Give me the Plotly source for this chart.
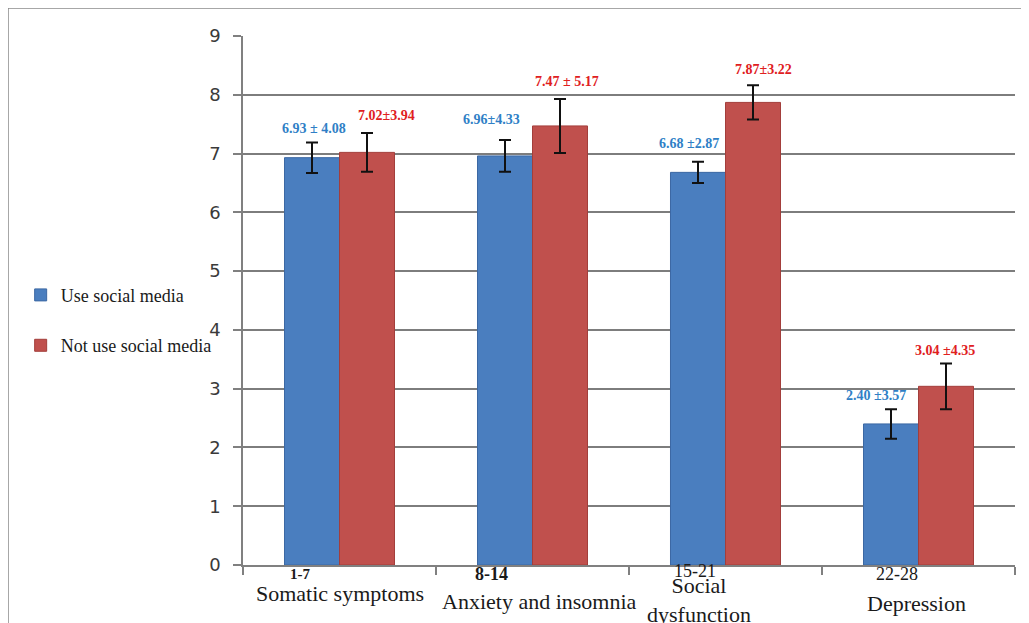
import plotly.graph_objects as go

# ---- data ----
categories = ["Somatic symptoms", "Anxiety and insomnia", "Social dysfunction", "Depression"]
cat_labels = ["Somatic symptoms", "Anxiety and insomnia", "Social<br>dysfunction", "Depression"]
item_ranges = ["1-7", "8-14", "15-21", "22-28"]
series_names = ["Use social media", "Not use social media"]
use_mean = [6.93, 6.96, 6.68, 2.40]
not_use_mean = [7.02, 7.47, 7.87, 3.04]
use_err = [0.26, 0.27, 0.18, 0.25]
not_use_err = [0.33, 0.46, 0.29, 0.39]
use_text = ["6.93 ± 4.08", "6.96±4.33", "6.68 ±2.87", "2.40 ±3.57"]
not_use_text = ["7.02±3.94", "7.47 ± 5.17", "7.87±3.22", "3.04 ±4.35"]
y_ticks = [0, 1, 2, 3, 4, 5, 6, 7, 8, 9]

# ---- styling / placement (pixels) ----
blue, blue_edge, blue_txt = "#4a7ebf", "#3c68a3", "#2f7fc6"
red, red_edge, red_txt = "#c0504d", "#a33e3b", "#e0201e"
use_lbl_dx = [-26, -41, -37, -43]
not_lbl_dx = [47, 34, 38, 26]
use_lbl_dy = [14, 21, 18, 14]
not_lbl_dy = [17, 17, 16, 13]
rng_dx = [-40, -41, -31, -22]
rng_dy = [-9, -9, -6, -9]
rng_bold = [True, True, False, False]
rng_size = [15, 18, 18, 18]
cat_dx = [0, 7, -27, -2]
cat_dy = [-28, -36, -35, -38]

fig = go.Figure()
fig.add_trace(go.Bar(
    x=categories, y=use_mean, name=series_names[0], legendgroup="a",
    marker=dict(color=blue, line=dict(color=blue_edge, width=1)),
    error_y=dict(type="data", array=use_err, color="#111111", thickness=2, width=6),
))
fig.add_trace(go.Bar(
    x=categories, y=not_use_mean, name=series_names[1], legendgroup="b",
    marker=dict(color=red, line=dict(color=red_edge, width=1)),
    error_y=dict(type="data", array=not_use_err, color="#111111", thickness=2, width=6),
))

ann = []
for i, c in enumerate(categories):
    ann.append(dict(x=c, y=use_mean[i] + use_err[i], xref="x", yref="y", text=f"<b>{use_text[i]}</b>",
                    showarrow=False, xshift=use_lbl_dx[i], yshift=use_lbl_dy[i], yanchor="middle",
                    font=dict(family="Liberation Serif", size=14, color=blue_txt)))
    ann.append(dict(x=c, y=not_use_mean[i] + not_use_err[i], xref="x", yref="y", text=f"<b>{not_use_text[i]}</b>",
                    showarrow=False, xshift=not_lbl_dx[i], yshift=not_lbl_dy[i], yanchor="middle",
                    font=dict(family="Liberation Serif", size=14, color=red_txt)))
    rtxt = f"<b>{item_ranges[i]}</b>" if rng_bold[i] else item_ranges[i]
    ann.append(dict(x=c, y=0, xref="x", yref="paper", text=rtxt, showarrow=False,
                    xshift=rng_dx[i], yshift=rng_dy[i], yanchor="middle",
                    font=dict(family="Liberation Serif", size=rng_size[i], color="#1a1a1a")))
    ann.append(dict(x=c, y=0, xref="x", yref="paper", text=cat_labels[i], showarrow=False,
                    xshift=cat_dx[i], yshift=cat_dy[i], yanchor="middle",
                    font=dict(family="Liberation Serif", size=22, color="#1a1a1a")))

fig.update_layout(
    width=1029, height=623,
    margin=dict(l=235, r=22, t=28, b=66),
    paper_bgcolor="white", plot_bgcolor="white",
    barmode="group", bargap=0.43, bargroupgap=0,
    showlegend=True,
    legend=dict(x=-0.288, y=0.545, xanchor="left", yanchor="top",
                font=dict(family="Liberation Serif", size=18, color="#1a1a1a"),
                traceorder="grouped", tracegroupgap=24, bgcolor="rgba(0,0,0,0)"),
    annotations=ann,
    shapes=[dict(type="rect", xref="paper", yref="paper", x0=-0.3044, x1=1.2, y0=-0.3, y1=1.0529,
                 line=dict(color="#8a8a8a", width=1.5), layer="below")],
    xaxis=dict(showticklabels=False, tickson="boundaries", ticks="outside", ticklen=8,
               tickcolor="#808080", tickwidth=1.5, showline=True, linecolor="#808080", linewidth=1.5,
               showgrid=False, zeroline=False),
    yaxis=dict(range=[0, 9], tickvals=y_ticks, ticks="outside", ticklen=8, tickcolor="#808080",
               tickwidth=1.5, showline=True, linecolor="#808080", linewidth=1.5,
               showgrid=True, gridcolor="#7d7d7d", gridwidth=1.6, zeroline=False,
               ticklabelstandoff=9,
               tickfont=dict(family="DejaVu Sans", size=18, color="#3a3a3a")),
)

fig.write_html("out.html")
